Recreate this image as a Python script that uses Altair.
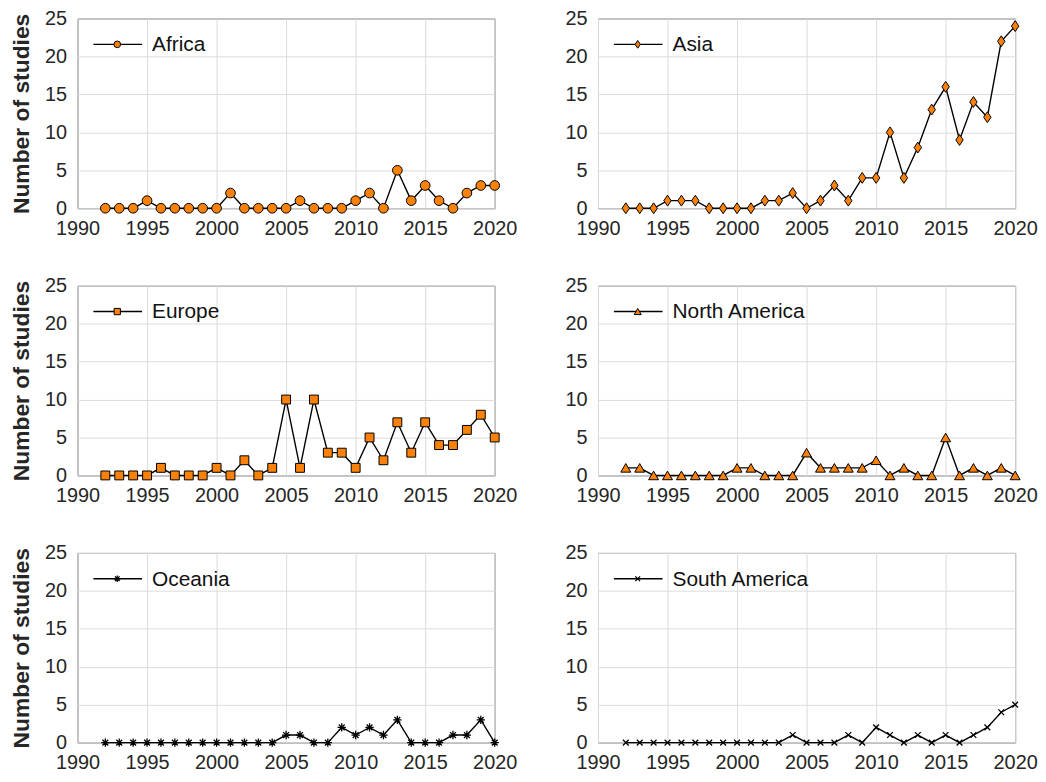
import altair as alt
import pandas as pd

years = list(range(1992, 2021))

africa = [0, 0, 0, 1, 0, 0, 0, 0, 0, 2, 0, 0, 0, 0, 1, 0, 0, 0, 1, 2, 0, 5, 1, 3, 1, 0, 2, 3, 3]
asia = [0, 0, 0, 1, 1, 1, 0, 0, 0, 0, 1, 1, 2, 0, 1, 3, 1, 4, 4, 10, 4, 8, 13, 16, 9, 14, 12, 22, 24]
europe = [0, 0, 0, 0, 1, 0, 0, 0, 1, 0, 2, 0, 1, 10, 1, 10, 3, 3, 1, 5, 2, 7, 3, 7, 4, 4, 6, 8, 5]
north_america = [1, 1, 0, 0, 0, 0, 0, 0, 1, 1, 0, 0, 0, 3, 1, 1, 1, 1, 2, 0, 1, 0, 0, 5, 0, 1, 0, 1, 0]
oceania = [0, 0, 0, 0, 0, 0, 0, 0, 0, 0, 0, 0, 0, 1, 1, 0, 0, 2, 1, 2, 1, 3, 0, 0, 0, 1, 1, 3, 0]
south_america = [0, 0, 0, 0, 0, 0, 0, 0, 0, 0, 0, 0, 1, 0, 0, 0, 1, 0, 2, 1, 0, 1, 0, 1, 0, 1, 2, 4, 5]

region_names = ["Africa", "Asia", "Europe", "North America", "Oceania", "South America"]
region_values = [africa, asia, europe, north_america, oceania, south_america]

x_ticks = [1990, 1995, 2000, 2005, 2010, 2015, 2020]
y_ticks = [0, 5, 10, 15, 20, 25]

ORANGE = "#FA820A"
FONT = "Liberation Sans"

DIAMOND = "M0,-1L0.68,0L0,1L-0.68,0Z"
ASTERISK = "M0,-1L0,1M-1,0L1,0M-0.7,-0.7L0.7,0.7M-0.7,0.7L0.7,-0.7"
XMARK = "M-0.75,-0.75L0.75,0.75M-0.75,0.75L0.75,-0.75"

# (shape, filled, data size, legend size)
markers = [
    ("circle", True, 95, 45),
    (DIAMOND, True, 120, 60),
    ("square", True, 80, 40),
    ("triangle-up", True, 100, 50),
    (ASTERISK, False, 70, 45),
    (XMARK, False, 60, 40),
]


def point_mark(shape, filled, size):
    if filled:
        return dict(shape=shape, filled=True, fill=ORANGE, stroke="black",
                    strokeWidth=1, size=size, opacity=1)
    return dict(shape=shape, filled=False, stroke="black", strokeWidth=1.3,
                size=size, opacity=1)


def panel(name, values, marker, show_title):
    shape, filled, size, lsize = marker
    df = pd.DataFrame({"year": years, "count": values})
    base = alt.Chart(df).encode(
        x=alt.X("year:Q",
                scale=alt.Scale(domain=[1990, 2020], nice=False, zero=False),
                axis=alt.Axis(values=x_ticks, format="d", title=None,
                              labelPadding=10, labelFlush=False)),
        y=alt.Y("count:Q",
                scale=alt.Scale(domain=[0, 25], nice=False),
                axis=alt.Axis(values=y_ticks, labelFlush=False,
                              title="Number of studies" if show_title else None)),
    )
    line = base.mark_line(color="black", strokeWidth=1.4)
    pts = base.mark_point(**point_mark(shape, filled, size))

    leg = pd.DataFrame({"label": [name]})
    lrule = alt.Chart(leg).mark_rule(color="black", strokeWidth=1.4).encode(
        x=alt.value(16), x2=alt.value(65), y=alt.value(26))
    lpt = alt.Chart(leg).mark_point(**point_mark(shape, filled, lsize)).encode(
        x=alt.value(40), y=alt.value(26))
    ltxt = alt.Chart(leg).mark_text(align="left", baseline="middle", fontSize=21,
                                    font=FONT, color="#111111").encode(
        x=alt.value(75), y=alt.value(27), text="label:N")
    return alt.layer(line, pts, lrule, lpt, ltxt).properties(width=420, height=191)


rows = []
for i in range(0, 6, 2):
    left = panel(region_names[i], region_values[i], markers[i], True)
    right = panel(region_names[i + 1], region_values[i + 1], markers[i + 1], False)
    rows.append(alt.hconcat(left, right, spacing=47))

chart = alt.vconcat(*rows, spacing=36).properties(
    padding={"left": 2, "top": -3, "right": 0, "bottom": 0}
).configure_view(
    stroke="#555555", strokeWidth=1
).configure_axis(
    labelFont=FONT, labelFontSize=20, labelColor="#262626",
    titleFont=FONT, titleFontSize=23, titleFontWeight="bold", titleColor="#262626",
    tickSize=0, domain=False, gridColor="#DCDCDC", gridWidth=1,
    labelPadding=11, titlePadding=11,
)

chart.save("out.html", embed_options={"renderer": "svg", "actions": False})
